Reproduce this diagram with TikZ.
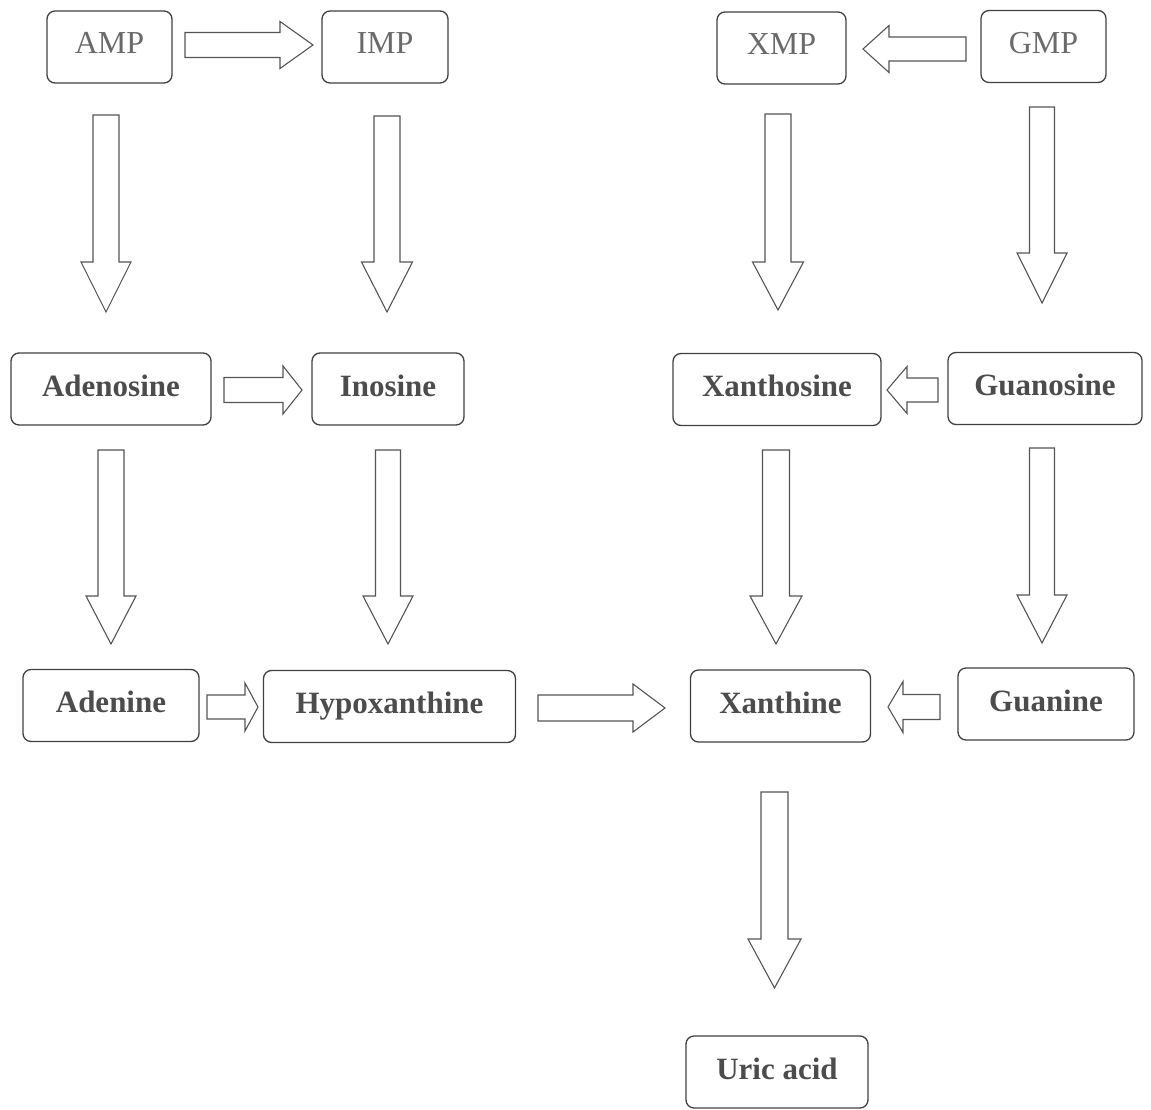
\documentclass[tikz,border=0pt]{standalone}
\usepackage{fontspec}
\setmainfont{Liberation Serif}
\definecolor{boxgray}{HTML}{404040}
\definecolor{arrgray}{HTML}{555555}
\definecolor{txtdark}{HTML}{4C4C4C}
\definecolor{txtlight}{HTML}{6A6A6A}
\newcommand\vblockarrow[6]{%
  \draw[barrow] (#1-#5,#2) -- (#1+#5,#2) -- (#1+#5,#3) -- (#1+#6,#3) -- (#1,#4) -- (#1-#6,#3) -- (#1-#5,#3) -- cycle;}
\newcommand\hblockarrow[6]{%
  \draw[barrow] (#2,#1-#5) -- (#3,#1-#5) -- (#3,#1-#6) -- (#4,#1) -- (#3,#1+#6) -- (#3,#1+#5) -- (#2,#1+#5) -- cycle;}
\begin{document}
\begin{tikzpicture}[x=1pt,y=-1pt,
  box/.style={draw=boxgray, line width=1.3pt, rounded corners=8pt, inner sep=0pt,
    text height=21pt, text depth=7pt, minimum height=72pt,
    font=\fontsize{31}{36}\selectfont\bfseries, text=txtdark},
  topbox/.style={box, font=\fontsize{32}{36}\selectfont, text=txtlight},
  barrow/.style={draw=arrgray, line width=1.1pt, line join=miter, fill=white}]
\useasboundingbox (0,0) rectangle (1151,1110);
% top row
\node[topbox, minimum width=125pt] (AMP) at (109.5,47) {AMP};
\node[topbox, minimum width=126pt] (IMP) at (385,47) {IMP};
\node[topbox, minimum width=129pt] (XMP) at (781.5,48) {XMP};
\node[topbox, minimum width=125pt] (GMP) at (1043.5,46.5) {GMP};
% second row
\node[box, minimum width=200pt] (Adenosine) at (111,389) {Adenosine};
\node[box, minimum width=152pt] (Inosine) at (388,389) {Inosine};
\node[box, minimum width=208pt] (Xanthosine) at (777,389.5) {Xanthosine};
\node[box, minimum width=194pt] (Guanosine) at (1045,388.5) {Guanosine};
% third row
\node[box, minimum width=176pt] (Adenine) at (111,705.5) {Adenine};
\node[box, minimum width=252pt] (Hypoxanthine) at (389.5,706.5) {Hypoxanthine};
\node[box, minimum width=180pt] (Xanthine) at (780.5,706) {Xanthine};
\node[box, minimum width=176pt] (Guanine) at (1046,704) {Guanine};
% bottom
\node[box, minimum width=182pt] (Uric) at (777,1072) {Uric acid};
% vertical block arrows: cx, ytop, yhead, ytip, shaft hw, head hw
\vblockarrow{106}{115}{262}{312}{13}{25}
\vblockarrow{387}{116}{262}{312}{13}{25.5}
\vblockarrow{778}{114}{262}{310}{13}{25.5}
\vblockarrow{1042}{107}{253}{303}{12.5}{25}
\vblockarrow{111}{450}{596}{644}{13}{25}
\vblockarrow{388}{450}{596}{644}{12.5}{25}
\vblockarrow{776}{450}{596}{644}{13.5}{26}
\vblockarrow{1042}{448}{595}{643}{12.5}{25}
\vblockarrow{774.5}{792}{939}{988}{13.5}{26.5}
% horizontal block arrows: cy, xstart, xhead, xtip, shaft hw, head hw
\hblockarrow{45}{185}{280}{313}{12.5}{23.5}
\hblockarrow{49}{966}{889}{863}{12}{23.5}
\hblockarrow{390}{224}{283}{302}{12.5}{24}
\hblockarrow{390}{938}{907}{887}{12}{23.5}
\hblockarrow{707}{207}{245}{258}{12}{24}
\hblockarrow{708}{538}{633}{665}{13}{24}
\hblockarrow{707}{940}{903}{888}{12.5}{25.5}
\end{tikzpicture}
\end{document}
